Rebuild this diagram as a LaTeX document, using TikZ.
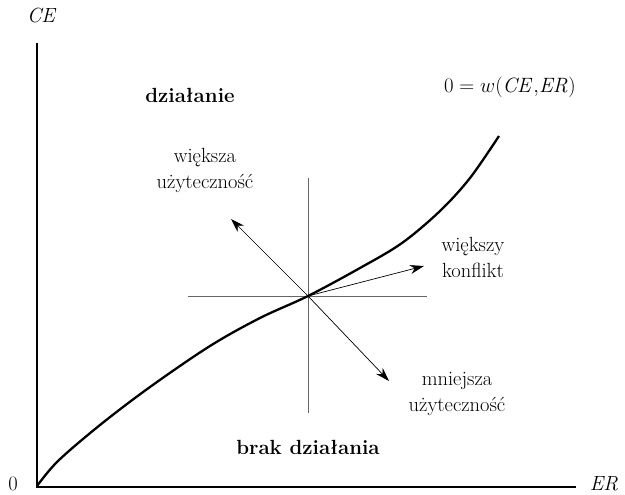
\documentclass[tikz,border=0pt]{standalone}
\usetikzlibrary{arrows.meta}
\begin{document}
\begin{tikzpicture}[x=1pt,y=-1pt,
  lbl/.style={font=\fontsize{20.5}{26}\selectfont, align=center, inner sep=0pt},
  blbl/.style={font=\fontsize{20.5}{26}\selectfont\bfseries, inner sep=0pt},
  axis/.style={line width=2.4pt},
  cross/.style={line width=0.8pt, draw=black!60},
  vec/.style={line width=0.7pt, -{Stealth[length=14pt,width=9pt]}}]
\useasboundingbox (0,0) rectangle (625,495);
\coordinate (O) at (37,487);
\coordinate (ytop) at (37,43);
\coordinate (xend) at (576,487);
\draw[axis] (ytop) -- (O) -- (xend);
\node[lbl] (zero) at (13,484) {0};
\node[lbl] (er) at (604,484) {\itshape ER};
\node[lbl] (ce) at (41,16) {\itshape CE};
% crosshair
\coordinate (C) at (308,296);
\coordinate (vt) at (308,178);
\coordinate (vb) at (308,413);
\coordinate (hl) at (188,296);
\coordinate (hr) at (427,296);
\draw[cross] (vt) -- (vb);
\draw[cross] (hl) -- (hr);
% curve
\draw[line width=2.3pt, line join=round] plot[smooth, tension=0.55] coordinates {
 (37,486) (58,461) (100,425) (150,387) (210,346) (260,318) (308,296)
 (360,268) (402,243) (440,211) (470,178) (499,136)};
% arrows
\coordinate (a1) at (231,219);
\coordinate (a2) at (424,266);
\coordinate (a3) at (389,381);
\draw[vec] (C) -- (a1);
\draw[vec] (C) -- (a2);
\draw[vec] (C) -- (a3);
% labels
\node[blbl] (dz) at (190,95) {działanie};
\node[blbl] (bd) at (308,447) {brak działania};
\node[lbl] (eq) at (510,87) {$0 = w(\mathit{CE}{,}\mathit{ER})$};
\node[lbl] (wu) at (205,170) {większa\\użyteczność};
\node[lbl] (wk) at (473,257) {większy\\konflikt};
\node[lbl] (mu) at (457,394) {mniejsza\\użyteczność};
\end{tikzpicture}
\end{document}
